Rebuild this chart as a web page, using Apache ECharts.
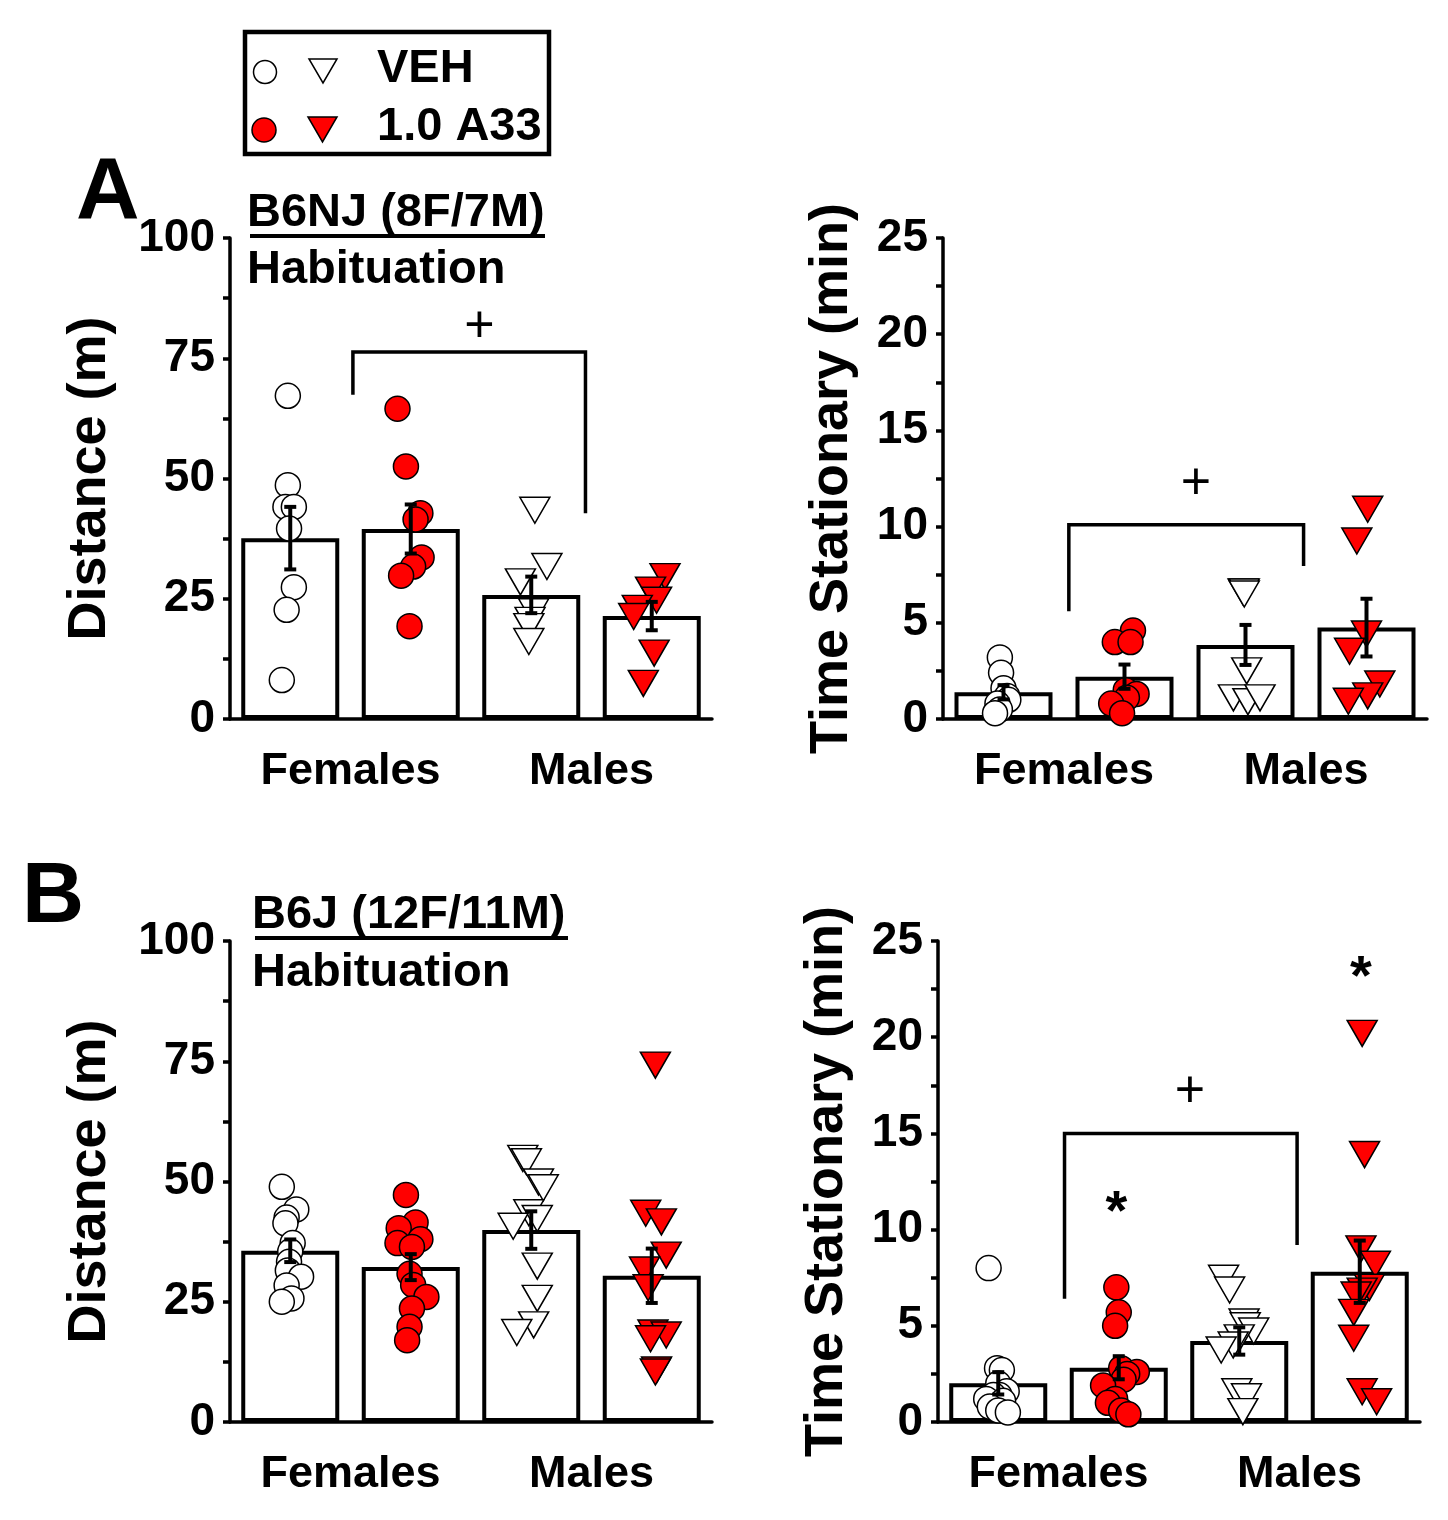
<!DOCTYPE html>
<html><head><meta charset="utf-8">
<script src="https://cdn.jsdelivr.net/npm/echarts@6/dist/echarts.min.js"></script>
<style>html,body{margin:0;padding:0;background:#fff}#c{width:1448px;height:1520px}</style>
</head><body><div id="c"></div>
<script>
// ---------- categories & ticks ----------
const CATS = ['F-VEH', 'F-A33', 'M-VEH', 'M-A33'];
const GROUPS = ['Females', 'Males'];
const distTicks = [0, 25, 50, 75, 100];
const statTicks = [0, 5, 10, 15, 20, 25];

// ---------- Panel A (B6NJ) distance ----------
const aDistMean = [37.6, 39.5, 25.8, 21.4];
const aDistSem = [6.5, 5.1, 3.8, 2.95];
const aDistFVeh = [67.2, 48.6, 44.1, 44.1, 39.6, 27.4, 22.7, 8.1];
const aDistFVehJit = [-0.02, -0.02, -0.04, 0.03, -0.01, 0.03, -0.03, -0.07];
const aDistFA33 = [64.5, 52.5, 42.8, 41.5, 33.6, 31.7, 29.8, 19.3];
const aDistFA33Jit = [-0.11, -0.04, 0.08, 0.04, 0.09, 0.02, -0.08, -0.01];
const aDistMVeh = [43.4, 31.7, 28.5, 22.3, 20.5, 19.2, 16.1];
const aDistMVehJit = [0.03, 0.13, -0.09, 0.02, -0.01, -0.02, -0.02];
const aDistMA33 = [29.6, 26.8, 24.7, 23.0, 21.3, 13.7, 7.4];
const aDistMA33Jit = [0.11, -0.01, 0.04, -0.12, -0.15, 0.02, -0.07];
const aDistBracket = [0.52, 2.45, 67.4, 76.3, 42.8];
const aDistSig = [['+', 1.57, 81.3]];

// ---------- Panel A (B6NJ) time stationary ----------
const aStatMean = [1.39, 2.2, 3.85, 4.75];
const aStatSem = [0.37, 0.63, 1.04, 1.5];
const aStatFVeh = [3.2, 2.4, 1.6, 1.2, 1.0, 0.8, 0.5, 0.3];
const aStatFVehJit = [-0.03, -0.02, 0, 0.03, 0.04, -0.05, -0.03, -0.07];
const aStatFA33 = [4.6, 4.0, 4.0, 1.5, 1.3, 1.1, 0.8, 0.3];
const aStatFA33Jit = [0.07, -0.08, 0.05, 0.01, 0.1, 0.02, -0.11, -0.02];
const aStatMVeh = [6.6, 6.6, 6.5, 2.5, 1.1, 0.9, 1.1];
const aStatMVehJit = [-0.02, -0.01, -0.01, 0.01, -0.1, 0.02, 0.12];
const aStatMA33 = [10.9, 9.25, 4.42, 3.52, 1.82, 1.2, 0.92];
const aStatMA33Jit = [0.01, -0.08, 0, -0.14, 0.11, 0.01, -0.15];
const aStatBracket = [0.54, 2.48, 5.6, 10.1, 7.95];
const aStatSig = [['+', 1.59, 12.2]];

// ---------- Panel B (B6J) distance ----------
const bDistMean = [35.6, 32.2, 39.9, 30.4];
const bDistSem = [2.35, 2.7, 3.9, 5.65];
const bDistFVeh = [48.9, 44.2, 42.5, 41.3, 37.2, 35.5, 33.3, 31.5, 30.2, 28.4, 25.7, 25.0];
const bDistFVehJit = [-0.07, 0.05, -0.03, -0.04, 0.02, 0, -0.01, -0.02, 0.09, -0.03, 0.01, -0.07];
const bDistFA33 = [47.2, 41.5, 40.3, 38.0, 37.2, 36.4, 30.8, 28.5, 26.0, 23.6, 19.8, 17.0];
const bDistFA33Jit = [-0.04, 0.04, -0.10, 0.08, -0.11, 0.01, -0.01, 0.02, 0.13, 0.01, -0.01, -0.03];
const bDistMVeh = [54.8, 54.1, 49.9, 48.7, 43.5, 42.3, 40.7, 32.4, 25.7, 20.2, 18.6];
const bDistMVehJit = [-0.07, -0.04, 0.06, 0.10, -0.02, 0.05, -0.15, 0.05, 0.05, 0.02, -0.12];
const bDistMA33 = [74.2, 43.4, 41.6, 34.7, 31.6, 27.9, 18.5, 18.1, 17.3, 10.8, 10.4];
const bDistMA33Jit = [0.03, -0.05, 0.08, 0.12, -0.06, -0.03, 0.01, 0.12, -0.01, 0.04, 0.03];

// ---------- Panel B (B6J) time stationary ----------
const bStatMean = [2.01, 2.82, 4.21, 7.81];
const bStatSem = [0.58, 0.6, 0.71, 1.62];
const bStatFVeh = [8.0, 2.8, 2.7, 2.0, 1.6, 1.4, 1.4, 1.2, 1.1, 0.8, 0.6, 0.5];
const bStatFVehJit = [-0.08, -0.01, 0.03, 0, 0.07, 0.01, -0.04, -0.10, 0.04, -0.07, 0, 0.08];
const bStatFA33 = [7.0, 5.7, 5.0, 2.8, 2.6, 2.5, 2.2, 1.9, 1.2, 1.0, 0.6, 0.4];
const bStatFA33Jit = [-0.02, 0, -0.03, 0.02, 0.15, 0.07, 0.04, -0.13, -0.03, -0.09, 0.02, 0.08];
const bStatMVeh = [7.47, 6.86, 5.2, 5.0, 4.73, 4.37, 4.0, 3.74, 1.57, 1.31, 0.54];
const bStatMVehJit = [-0.13, -0.08, 0.04, 0.05, 0.12, 0, -0.05, -0.15, -0.02, 0.06, 0.03];
const bStatMA33 = [20.2, 13.9, 9.0, 8.2, 7.0, 6.8, 6.6, 5.7, 4.35, 1.57, 1.05];
const bStatMA33Jit = [0.02, 0.04, 0.01, 0.13, 0.08, 0.02, -0.03, -0.05, -0.05, 0.02, 0.14];
const bStatBracket = [0.55, 2.48, 6.4, 15.0, 9.2];
const bStatSig = [['+', 1.59, 17.1], ['*', 0.98, 11.45], ['*', 3.01, 23.65]];

// ---------- build ----------
const FONT = '"Liberation Sans", Arial, Helvetica, sans-serif';
const grids = [
  { left: 230, top: 238, width: 482, height: 481 },
  { left: 943, top: 238, width: 484, height: 481 },
  { left: 230, top: 941, width: 482, height: 481 },
  { left: 938, top: 941, width: 482, height: 481 }
];
const panels = [
  { ticks: distTicks, name: 'Distance (m)', gap: 113, mean: aDistMean, sem: aDistSem,
    pts: [aDistFVeh, aDistFA33, aDistMVeh, aDistMA33], jit: [aDistFVehJit, aDistFA33Jit, aDistMVehJit, aDistMA33Jit],
    bracket: aDistBracket, sig: aDistSig },
  { ticks: statTicks, name: 'Time Stationary (min)', gap: 84, mean: aStatMean, sem: aStatSem,
    pts: [aStatFVeh, aStatFA33, aStatMVeh, aStatMA33], jit: [aStatFVehJit, aStatFA33Jit, aStatMVehJit, aStatMA33Jit],
    bracket: aStatBracket, sig: aStatSig },
  { ticks: distTicks, name: 'Distance (m)', gap: 113, mean: bDistMean, sem: bDistSem,
    pts: [bDistFVeh, bDistFA33, bDistMVeh, bDistMA33], jit: [bDistFVehJit, bDistFA33Jit, bDistMVehJit, bDistMA33Jit],
    bracket: null, sig: [] },
  { ticks: statTicks, name: 'Time Stationary (min)', gap: 84, mean: bStatMean, sem: bStatSem,
    pts: [bStatFVeh, bStatFA33, bStatMVeh, bStatMA33], jit: [bStatFVehJit, bStatFA33Jit, bStatMVehJit, bStatMA33Jit],
    bracket: bStatBracket, sig: bStatSig }
];

const xAxes = [], yAxes = [], series = [];
const BLK = '#000';
panels.forEach((p, g) => {
  const t = p.ticks;
  yAxes.push({
    type: 'value', gridIndex: g, min: t[0], max: t[t.length - 1], interval: t[1] - t[0],
    axisLine: { show: true, onZero: false, lineStyle: { color: BLK, width: 3.5 } },
    axisTick: { show: true, length: 7, lineStyle: { color: BLK, width: 3.5 } },
    minorTick: { show: true, splitNumber: 2, length: 7, lineStyle: { color: BLK, width: 3.5 } },
    splitLine: { show: false },
    axisLabel: { fontSize: 46, fontWeight: 'bold', color: BLK, fontFamily: FONT, margin: 15 },
    name: p.name, nameLocation: 'middle', nameGap: p.gap, nameRotate: 90,
    nameTextStyle: { fontSize: 54, fontWeight: 'bold', color: BLK, fontFamily: FONT }
  });
  xAxes.push({
    type: 'category', gridIndex: g, data: CATS, position: 'bottom',
    axisLine: { show: true, onZero: false, lineStyle: { color: BLK, width: 3.5 } },
    axisTick: { show: false }, axisLabel: { show: false }, splitLine: { show: false }
  });
  xAxes.push({
    type: 'category', gridIndex: g, data: GROUPS, position: 'bottom',
    axisLine: { show: false, onZero: false }, axisTick: { show: false }, splitLine: { show: false },
    axisLabel: { fontSize: 45, fontWeight: 'bold', color: BLK, fontFamily: FONT, margin: 30 }
  });
  xAxes.push({ type: 'value', gridIndex: g, min: -0.5, max: 3.5, show: false, position: 'bottom',
    axisLine: { onZero: false } });

  series.push({
    type: 'bar', xAxisIndex: 3 * g, yAxisIndex: g, data: p.mean, barWidth: 98, z: 2, silent: true,
    itemStyle: { color: '#fff', borderColor: BLK, borderWidth: 4 }
  });
  p.pts.forEach((vals, k) => {
    const tri = k >= 2;
    series.push({
      type: 'scatter', xAxisIndex: 3 * g + 2, yAxisIndex: g, z: 3, silent: true,
      data: vals.map((v, i) => [k + p.jit[k][i], v]),
      symbol: tri ? 'triangle' : 'circle',
      symbolSize: tri ? [30, 26] : 25,
      symbolRotate: tri ? 180 : 0,
      itemStyle: { color: (k % 2) ? '#ff0000' : '#ffffff', borderColor: BLK, borderWidth: 1.5, opacity: 1 }
    });
  });
  series.push({
    type: 'custom', xAxisIndex: 3 * g + 2, yAxisIndex: g, z: 5, silent: true,
    data: p.mean.map((m, i) => [i, m, p.sem[i]]),
    renderItem: (params, api) => {
      const x = api.value(0), m = api.value(1), s = api.value(2);
      const a = api.coord([x, m + s]), b = api.coord([x, m - s]);
      const hw = 6, st = { stroke: BLK, lineWidth: 4 };
      return { type: 'group', children: [
        { type: 'line', shape: { x1: a[0], y1: a[1], x2: b[0], y2: b[1] }, style: st },
        { type: 'line', shape: { x1: a[0] - hw, y1: a[1], x2: a[0] + hw, y2: a[1] }, style: st },
        { type: 'line', shape: { x1: b[0] - hw, y1: b[1], x2: b[0] + hw, y2: b[1] }, style: st }
      ] };
    }
  });
  if (p.bracket) {
    series.push({
      type: 'custom', xAxisIndex: 3 * g + 2, yAxisIndex: g, z: 5, silent: true,
      data: [p.bracket],
      renderItem: (params, api) => {
        const x1 = api.value(0), x2 = api.value(1), yl = api.value(2), yt = api.value(3), yr = api.value(4);
        const pts = [api.coord([x1, yl]), api.coord([x1, yt]), api.coord([x2, yt]), api.coord([x2, yr])];
        return { type: 'polyline', shape: { points: pts }, style: { stroke: BLK, lineWidth: 3.5, fill: null } };
      }
    });
  }
  if (p.sig.length) {
    const sig = p.sig;
    series.push({
      type: 'custom', xAxisIndex: 3 * g + 2, yAxisIndex: g, z: 5, silent: true,
      data: sig.map(s => [s[1], s[2]]),
      renderItem: (params, api) => {
        const c = api.coord([api.value(0), api.value(1)]);
        const txt = sig[params.dataIndex][0];
        const star = txt === '*';
        return { type: 'text', x: c[0], y: c[1] + (star ? 12 : 0), style: {
          text: txt, fill: BLK, align: 'center', verticalAlign: 'middle',
          font: (star ? 'bold 56px ' : 'normal 52px ') + FONT } };
      }
    });
  }
});

function txt(text, x, y, size, extra) {
  return Object.assign({ type: 'text', x: x, y: y, z: 10, style: {
    text: text, fill: BLK, font: 'bold ' + size + 'px ' + FONT,
    align: 'left', verticalAlign: 'middle', textAlign: 'left', textVerticalAlign: 'middle' } }, extra || {});
}
const graphic = [
  // legend box
  { type: 'rect', shape: { x: 245, y: 32, width: 304, height: 122 }, style: { fill: '#fff', stroke: BLK, lineWidth: 4.5 }, z: 9 },
  { type: 'circle', shape: { cx: 265, cy: 72, r: 11.5 }, style: { fill: '#fff', stroke: BLK, lineWidth: 1.5 }, z: 10 },
  { type: 'polygon', shape: { points: [[309, 59], [337, 59], [323, 83]] }, style: { fill: '#fff', stroke: BLK, lineWidth: 1.5 }, z: 10 },
  { type: 'circle', shape: { cx: 264, cy: 130, r: 12 }, style: { fill: '#ff0000', stroke: BLK, lineWidth: 1.5 }, z: 10 },
  { type: 'polygon', shape: { points: [[308, 117], [337, 117], [322.5, 142]] }, style: { fill: '#ff0000', stroke: BLK, lineWidth: 1.5 }, z: 10 },
  txt('VEH', 377, 69, 47),
  txt('1.0 A33', 377, 127, 47),
  // panel letters
  txt('A', 76, 194, 88),
  txt('B', 22, 898, 86),
  // subtitles
  txt('B6NJ (8F/7M)', 247, 213, 47),
  { type: 'rect', shape: { x: 250, y: 234, width: 295, height: 4 }, style: { fill: BLK }, z: 10 },
  txt('Habituation', 247, 270, 47),
  txt('B6J (12F/11M)', 252, 915, 47),
  { type: 'rect', shape: { x: 255, y: 936, width: 313, height: 4 }, style: { fill: BLK }, z: 10 },
  txt('Habituation', 252, 973, 47)
];

const chart = echarts.init(document.getElementById('c'));
chart.setOption({
  animation: false,
  backgroundColor: '#fff',
  grid: grids,
  xAxis: xAxes,
  yAxis: yAxes,
  series: series,
  graphic: graphic
});
</script></body></html>
